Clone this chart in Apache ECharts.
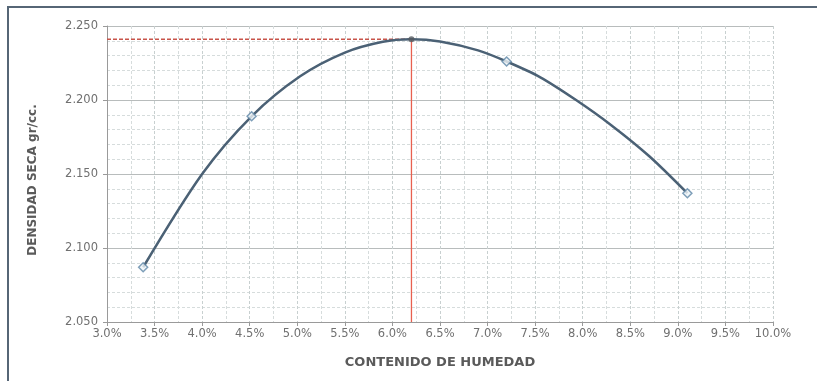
<!DOCTYPE html>
<html>
<head>
<meta charset="utf-8">
<script src="https://cdn.jsdelivr.net/npm/echarts@6/dist/echarts.min.js"></script>
<style>html,body{margin:0;padding:0;background:#fff}#c{width:817px;height:381px}</style>
</head>
<body>
<div id="c"></div>
<script>
// Measured points (humedad %, densidad seca gr/cc)
const humedad = [3.38, 4.52, 7.20, 9.10];
const densidad = [2.087, 2.189, 2.226, 2.137];
// Points
const curvaX = [3.38, 4.00, 4.52, 5.03, 5.50, 5.90, 6.20, 6.50, 6.90, 7.20, 7.55, 7.93, 8.30, 8.70, 9.10];
const curvaY = [2.087, 2.150, 2.189, 2.216, 2.232, 2.2393, 2.241, 2.2395, 2.2335, 2.226, 2.2155, 2.200, 2.183, 2.162, 2.137];
// Optimum
const optimoX = 6.20;
const optimoY = 2.241;
const xTitle = 'CONTENIDO DE HUMEDAD';
const yTitle = 'DENSIDAD SECA gr/cc.';

const font = 'DejaVu Sans';
const chart = echarts.init(document.getElementById('c'), null, {renderer: 'canvas'});
chart.setOption({
  animation: false,
  backgroundColor: '#fff',
  grid: {left: 107, right: 44, top: 26, bottom: 59, containLabel: false},
  graphic: [
    {type: 'line', shape: {x1: 8, y1: 7, x2: 817, y2: 7}, style: {stroke: '#566676', lineWidth: 2}, z: 10},
    {type: 'line', shape: {x1: 8, y1: 6, x2: 8, y2: 381}, style: {stroke: '#566676', lineWidth: 2}, z: 10}
  ],
  xAxis: {
    type: 'value', min: 3, max: 10, interval: 0.5,
    name: xTitle, nameLocation: 'middle', nameGap: 34,
    nameTextStyle: {fontFamily: font, fontWeight: 'bold', fontSize: 13, color: '#5a5a5a'},
    axisLine: {show: true, onZero: false, lineStyle: {color: '#9a9a9a', width: 1}},
    axisTick: {show: true, length: 4, lineStyle: {color: '#9a9a9a'}},
    axisLabel: {fontFamily: font, fontSize: 11.5, color: '#707070', margin: 6,
      formatter: v => v.toFixed(1) + '%'},
    splitLine: {show: true, lineStyle: {color: '#c8d0d0', type: [3, 2], width: 1}},
    minorTick: {show: false, splitNumber: 2},
    minorSplitLine: {show: true, lineStyle: {color: '#d6dcdc', type: [3, 2], width: 1}}
  },
  yAxis: {
    type: 'value', min: 2.05, max: 2.25, interval: 0.05,
    name: yTitle, nameLocation: 'middle', nameGap: 68, nameRotate: 90,
    nameTextStyle: {fontFamily: font, fontWeight: 'bold', fontSize: 12, color: '#5a5a5a', padding: [0, 12, 0, 0]},
    axisLine: {show: true, lineStyle: {color: '#9a9a9a', width: 1}},
    axisTick: {show: true, length: 4, lineStyle: {color: '#9a9a9a'}},
    axisLabel: {fontFamily: font, fontSize: 11.5, color: '#707070', margin: 9,
      formatter: v => v.toFixed(3)},
    splitLine: {show: true, lineStyle: {color: '#b8bcbc', width: 1}},
    minorTick: {show: false, splitNumber: 5},
    minorSplitLine: {show: true, lineStyle: {color: '#d6dcdc', type: [3, 2], width: 1}}
  },
  series: [
    {type: 'line', data: [[3, optimoY], [optimoX, optimoY]], symbol: 'none',
      lineStyle: {color: '#c8544a', width: 1.5, type: [4, 2]}, z: 3, silent: true},
    {type: 'line', data: [[optimoX, optimoY], [optimoX, 2.05]], symbol: 'none',
      lineStyle: {color: '#e8604f', width: 1.3}, z: 3, silent: true},
    {type: 'line', data: curvaX.map((x, i) => [x, curvaY[i]]), smooth: 0.3, symbol: 'none',
      lineStyle: {color: '#4b6175', width: 2.5}, z: 4},
    {type: 'scatter', data: humedad.map((x, i) => [x, densidad[i]]), symbol: 'diamond', symbolSize: 9,
      itemStyle: {color: '#eef4f8', borderColor: '#5f87a8', borderWidth: 1.5}, z: 5},
    {type: 'scatter', data: [[optimoX, optimoY]], symbol: 'circle', symbolSize: 6,
      itemStyle: {color: '#555a60'}, z: 6}
  ]
});
</script>
</body>
</html>
